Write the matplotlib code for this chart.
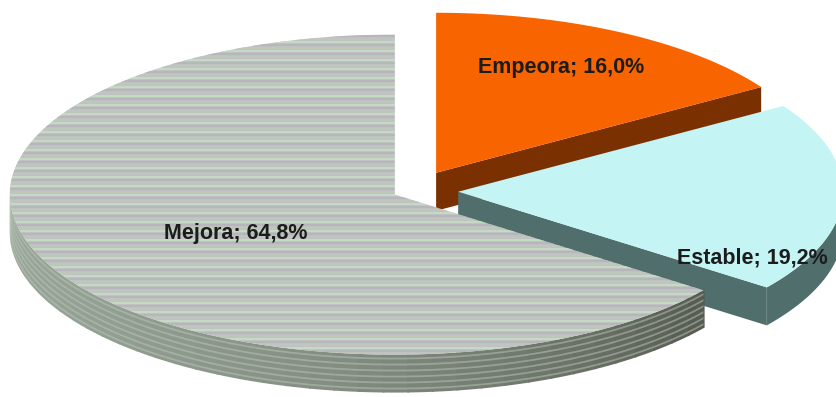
import numpy as np
import matplotlib
matplotlib.use("Agg")
import matplotlib.pyplot as plt
from matplotlib.colors import to_rgb
from matplotlib.patches import Polygon

# Opinion shares, drawn clockwise from 12 o'clock
labels = ["Empeora", "Estable", "Mejora"]
values = [16.0, 19.2, 64.8]

# --- styling / layout (pixel space, y down) ---
W, H = 837, 397
RX, RY = 385, 160          # radii of the projected top ellipse
DEPTH = 38                 # thickness of the pie
BASE = (412, 191)          # pie centre before exploding
explode = [0.13, 0.12, 0.05]
top_colors = ["#f76400", "#c4f4f4", "#bfc2bf"]
side_colors = ["#7a3000", "#506e6c", "#8f9a8f"]
label_pos = [(561, 68), (752, 258), (236, 233)]


def rim(c, deg, drop=0.0):
    t = np.radians(deg)
    return np.column_stack([c[0] + RX * np.cos(t), c[1] - RY * np.sin(t) + drop])


fig = plt.figure(figsize=(W / 100, H / 100), dpi=100)
ax = fig.add_axes([0, 0, 1, 1])
ax.set_xlim(0, W)
ax.set_ylim(H, 0)
ax.axis("off")

# slice angles (clockwise from 90 deg)
total = sum(values)
starts, ends = [], []
a = 90.0
for v in values:
    starts.append(a)
    a -= 360.0 * v / total
    ends.append(a)

centres = []
for i in range(len(values)):
    mid = np.radians((starts[i] + ends[i]) / 2)
    centres.append((BASE[0] + explode[i] * RX * np.cos(mid),
                    BASE[1] - explode[i] * RY * np.sin(mid)))


def draw_slice(i, z):
    c = centres[i]
    hi, lo = starts[i], ends[i]

    # radial wall on the clockwise edge (faces the viewer for the first two slices)
    if i < 2:
        p = rim(c, lo)[0]
        quad = [c, p, (p[0], p[1] + DEPTH), (c[0], c[1] + DEPTH)]
        ax.add_patch(Polygon(quad, closed=True, fc=side_colors[i], ec="none", zorder=z))

    # outer curved wall, only the part below the horizon
    if i == 1:
        th = np.linspace(lo, 0, 60)
        poly = np.vstack([rim(c, th), rim(c, th[::-1], DEPTH)])
        ax.add_patch(Polygon(poly, closed=True, fc=side_colors[i], ec="none", zorder=z))
    if i == 2:
        th_end = hi + 360  # Mejora wraps round: visible wall 180 -> 323.28
        edges = np.linspace(180, th_end, 40)
        light = np.array(to_rgb("#98a498"))
        dark = np.array(to_rgb("#575b52"))
        for k in range(len(edges) - 1):
            th = np.linspace(edges[k], edges[k + 1] + 0.3, 4)
            f = (k / (len(edges) - 2)) ** 2.0
            col = light * (1 - f) + dark * f
            poly = np.vstack([rim(c, th), rim(c, th[::-1], DEPTH)])
            ax.add_patch(Polygon(poly, closed=True, fc=col, ec="none", zorder=z))
        # banding on the wall following the rim
        th = np.linspace(180, th_end, 200)
        wall = np.vstack([rim(c, th), rim(c, th[::-1], DEPTH)])
        clip = Polygon(wall, closed=True, fc="none", ec="none")
        ax.add_patch(clip)
        for d in range(4, DEPTH, 6):
            pts = rim(c, th, d)
            ln, = ax.plot(pts[:, 0], pts[:, 1], color="#b8c8b8", lw=1.3, alpha=0.5, zorder=z + 0.1)
            ln.set_clip_path(clip)

    # top face
    th = np.linspace(hi, lo, 300)
    poly = np.vstack([[c], rim(c, th)])
    top = Polygon(poly, closed=True, fc=top_colors[i], ec="none", zorder=z + 0.5)
    ax.add_patch(top)
    if i == 2:
        ys = np.arange(c[1] - RY - 2, c[1] + RY + 2, 3.0)
        stripe = ["#c6e0c6", "#b5b4bc", "#c0c6c0"]
        for k, y in enumerate(ys):
            ln, = ax.plot([0, W], [y, y], color=stripe[k % 3], lw=1.2, zorder=z + 0.6)
            ln.set_clip_path(top)


for i, z in zip(range(len(values)), [1, 3, 5]):
    draw_slice(i, z)

for name, v, (x, y) in zip(labels, values, label_pos):
    txt = f"{name}; {v:.1f}%".replace(".", ",")
    ax.text(x, y, txt, ha="center", va="center", fontsize=15.5, fontweight="bold",
            family=["Liberation Sans", "DejaVu Sans"], color="#1c1c1c", zorder=10)

fig.savefig("out.png", dpi=100)
